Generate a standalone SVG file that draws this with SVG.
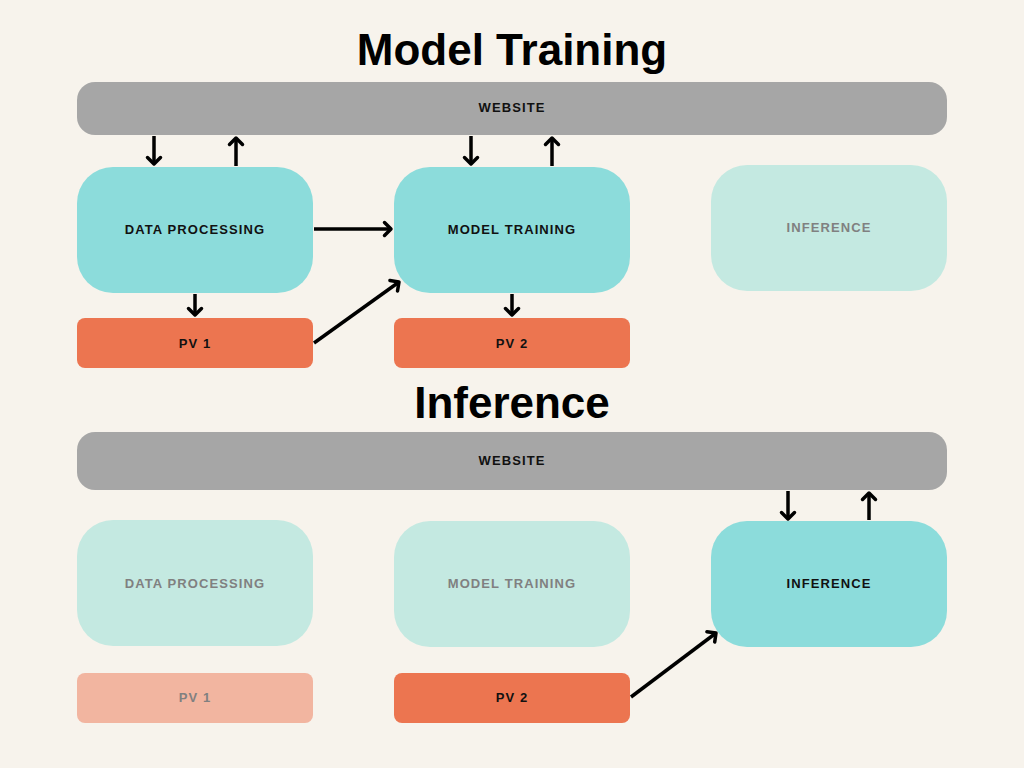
<svg xmlns="http://www.w3.org/2000/svg" width="1024" height="768" viewBox="0 0 1024 768">
<defs>
<style>
.bg{fill:#f7f3ec}
.bar{fill:#a6a6a6}
.proc{fill:#8cdcdb}
.procf{fill:#c4e9e1}
.pv{fill:#ec7550}
.pvf{fill:#f2b5a0}
.title{font-family:"Liberation Sans",Arial,sans-serif;font-weight:bold;font-size:44px;fill:#000;text-anchor:middle}
.lbl{font-family:"Liberation Sans",Arial,sans-serif;font-weight:bold;font-size:13px;letter-spacing:1.1px;fill:#111;text-anchor:middle;dominant-baseline:central}
.lblf{font-family:"Liberation Sans",Arial,sans-serif;font-weight:bold;font-size:13px;letter-spacing:1.1px;fill:#808080;text-anchor:middle;dominant-baseline:central}
.conn{stroke:#000;stroke-width:3.5;fill:none;marker-end:url(#arr)}
</style>
<marker id="arr" markerUnits="userSpaceOnUse" viewBox="-10 -10 20 20" refX="0" refY="0" markerWidth="20" markerHeight="20" orient="auto">
<polyline points="-6.5,-6.5 0,0 -6.5,6.5" fill="none" stroke="#000" stroke-width="3.5" stroke-linecap="round" stroke-linejoin="round"/>
</marker>
</defs>
<rect class="bg" x="0" y="0" width="1024" height="768"/>
<text class="title" x="512" y="65">Model Training</text>
<text class="title" x="512" y="418">Inference</text>

<g id="website-top"><rect class="bar" x="77" y="82" width="870" height="53" rx="18"/><text class="lbl" x="512" y="107">WEBSITE</text></g>
<g id="dp-top"><rect class="proc" x="77" y="167" width="236" height="126" rx="36"/><text class="lbl" x="195" y="229">DATA PROCESSING</text></g>
<g id="mt-top"><rect class="proc" x="394" y="167" width="236" height="126" rx="36"/><text class="lbl" x="512" y="229">MODEL TRAINING</text></g>
<g id="inf-top"><rect class="procf" x="711" y="165" width="236" height="126" rx="36"/><text class="lblf" x="829" y="227">INFERENCE</text></g>
<g id="pv1-top"><rect class="pv" x="77" y="318" width="236" height="50" rx="8"/><text class="lbl" x="195" y="343">PV 1</text></g>
<g id="pv2-top"><rect class="pv" x="394" y="318" width="236" height="50" rx="8"/><text class="lbl" x="512" y="343">PV 2</text></g>

<g id="website-bottom"><rect class="bar" x="77" y="432" width="870" height="58" rx="18"/><text class="lbl" x="512" y="460">WEBSITE</text></g>
<g id="dp-bottom"><rect class="procf" x="77" y="520" width="236" height="126" rx="36"/><text class="lblf" x="195" y="583">DATA PROCESSING</text></g>
<g id="mt-bottom"><rect class="procf" x="394" y="521" width="236" height="126" rx="36"/><text class="lblf" x="512" y="583">MODEL TRAINING</text></g>
<g id="inf-bottom"><rect class="proc" x="711" y="521" width="236" height="126" rx="36"/><text class="lbl" x="829" y="583">INFERENCE</text></g>
<g id="pv1-bottom"><rect class="pvf" x="77" y="673" width="236" height="50" rx="8"/><text class="lblf" x="195" y="697">PV 1</text></g>
<g id="pv2-bottom"><rect class="pv" x="394" y="673" width="236" height="50" rx="8"/><text class="lbl" x="512" y="697">PV 2</text></g>

<g id="connectors">
<line class="conn" x1="154" y1="136" x2="154" y2="164"/>
<line class="conn" x1="236" y1="166" x2="236" y2="138"/>
<line class="conn" x1="471" y1="136" x2="471" y2="164"/>
<line class="conn" x1="552" y1="166" x2="552" y2="138"/>
<line class="conn" x1="314" y1="229" x2="391" y2="229"/>
<line class="conn" x1="314" y1="343" x2="399" y2="282"/>
<line class="conn" x1="195" y1="294" x2="195" y2="315"/>
<line class="conn" x1="512" y1="294" x2="512" y2="315"/>
<line class="conn" x1="788" y1="491" x2="788" y2="519"/>
<line class="conn" x1="869" y1="520" x2="869" y2="493"/>
<line class="conn" x1="631" y1="697" x2="716" y2="633"/>
</g>
</svg>
